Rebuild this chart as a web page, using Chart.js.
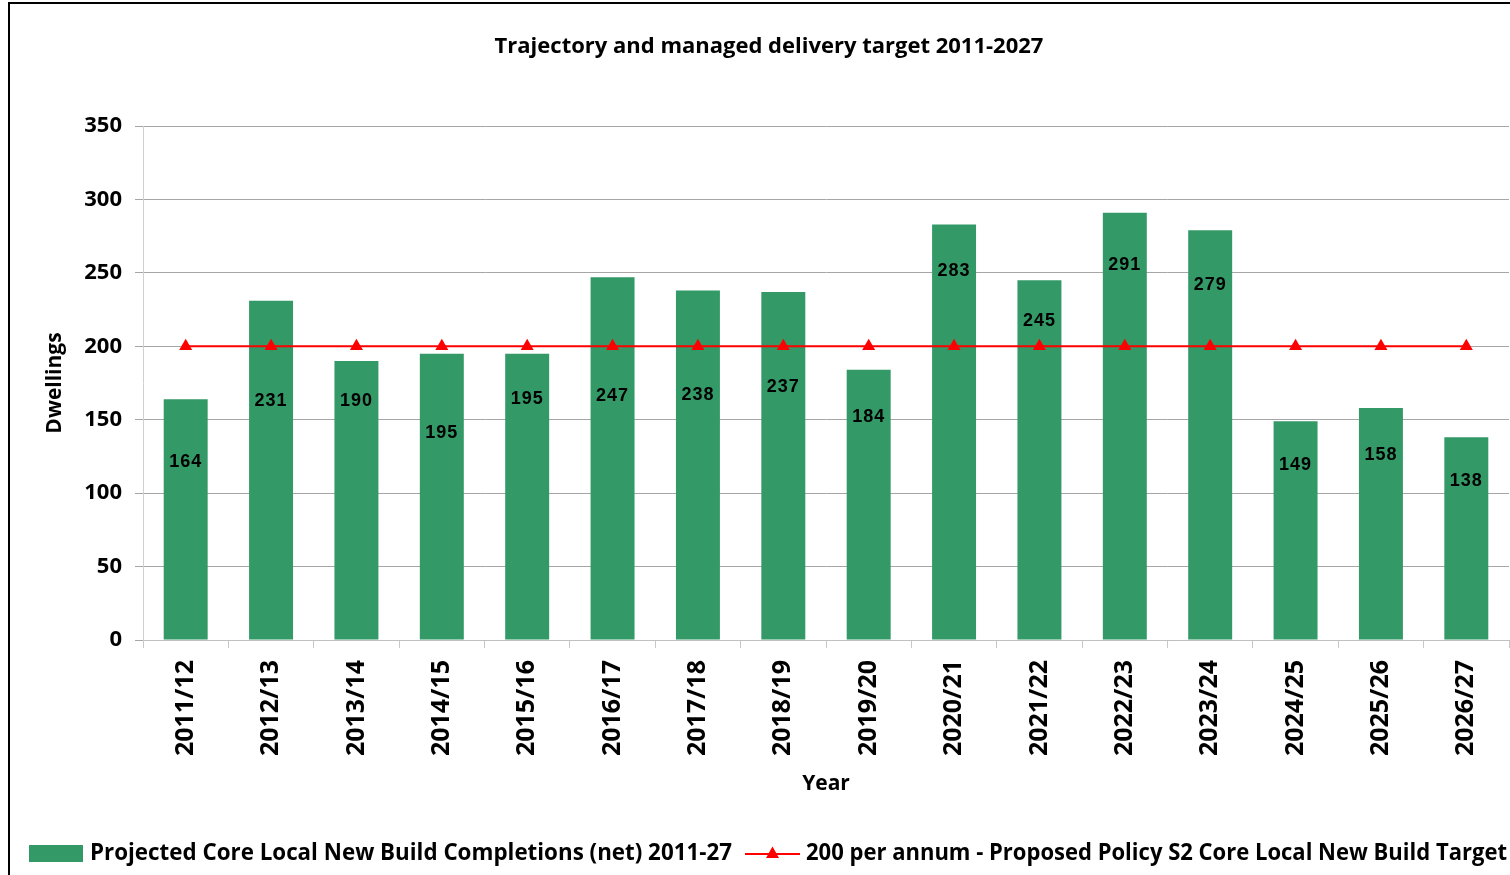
<!DOCTYPE html>
<html>
<head>
<meta charset="utf-8">
<script src="https://cdn.jsdelivr.net/npm/chart.js@4.4.1/dist/chart.umd.min.js"></script>
<style>
  html, body { margin: 0; padding: 0; background: #fff; }
  canvas { display: block; }
</style>
</head>
<body>
<canvas id="trajectoryChart" width="1510" height="875"></canvas>
<script>
// data
const years = [
  "2011/12", "2012/13", "2013/14", "2014/15", "2015/16", "2016/17", "2017/18", "2018/19",
  "2019/20", "2020/21", "2021/22", "2022/23", "2023/24", "2024/25", "2025/26", "2026/27",
];
const completions = [164, 231, 190, 195, 195, 247, 238, 237, 184, 283, 245, 291, 279, 149, 158, 138];
const target = [200, 200, 200, 200, 200, 200, 200, 200, 200, 200, 200, 200, 200, 200, 200, 200];
// where each value label sits, in dwellings on the y axis
const labelHeights = [121, 163, 163, 141, 164, 166, 167, 172, 152, 251, 217, 255, 242, 119, 126, 108];
const yTicks = [0, 50, 100, 150, 200, 250, 300, 350];

const barLabel = "Projected Core Local New Build Completions (net) 2011-27";
const lineLabel = "200 per annum - Proposed Policy S2 Core Local New Build Target";
const chartTitle = "Trajectory and managed delivery target 2011-2027";

const GREEN = "#339966";
const RED = "#ff0000";

Chart.defaults.font.family = "'Open Sans', 'DejaVu Sans', sans-serif";
Chart.defaults.color = "#000";

// labels inside the bars
const valueLabels = {
  id: "valueLabels",
  afterDatasetsDraw(chart) {
    const { ctx } = chart;
    const yScale = chart.scales.y;
    const meta = chart.getDatasetMeta(1);
    ctx.save();
    ctx.font = "bold 18px 'Liberation Sans', Arial, sans-serif";
    ctx.letterSpacing = "1px";
    ctx.fillStyle = "#000";
    ctx.textAlign = "center";
    ctx.textBaseline = "middle";
    meta.data.forEach((bar, i) => {
      ctx.fillText(String(completions[i]), bar.x, yScale.getPixelForValue(labelHeights[i]));
    });
    ctx.restore();
  },
};

// title, legend and frame
const decorations = {
  id: "decorations",
  afterDraw(chart) {
    const { ctx } = chart;
    ctx.save();

    ctx.fillStyle = "#000";
    ctx.font = "bold 22px 'Open Sans'";
    ctx.textAlign = "center";
    ctx.textBaseline = "middle";
    ctx.fillText(chartTitle, 769, 47);

    // legend
    const ly = 854;
    ctx.font = "bold 22.4px 'Open Sans'";
    ctx.textAlign = "left";
    ctx.fillStyle = GREEN;
    ctx.fillRect(29, 845, 54, 17);
    ctx.fillStyle = "#000";
    ctx.fillText(barLabel, 90, ly, 642);
    let x = 90 + Math.min(642, ctx.measureText(barLabel).width) + 13;
    ctx.strokeStyle = RED;
    ctx.lineWidth = 2;
    ctx.beginPath();
    ctx.moveTo(x, ly);
    ctx.lineTo(x + 55, ly);
    ctx.stroke();
    ctx.fillStyle = RED;
    ctx.beginPath();
    ctx.moveTo(x + 27.5, ly - 7.5);
    ctx.lineTo(x + 34, ly + 4);
    ctx.lineTo(x + 21, ly + 4);
    ctx.closePath();
    ctx.fill();
    ctx.fillStyle = "#000";
    ctx.fillText(lineLabel, x + 61, ly, 1507 - (x + 61));

    // frame
    ctx.strokeStyle = "#000";
    ctx.lineWidth = 2;
    ctx.beginPath();
    ctx.moveTo(9, 875);
    ctx.lineTo(9, 3);
    ctx.lineTo(1510, 3);
    ctx.stroke();
    ctx.restore();
  },
};

new Chart(document.getElementById("trajectoryChart").getContext("2d"), {
  data: {
    labels: years,
    datasets: [
      {
        type: "line",
        label: lineLabel,
        data: target,
        borderColor: RED,
        backgroundColor: RED,
        borderWidth: 2,
        pointStyle: "triangle",
        pointRadius: 7.5,
        pointHoverRadius: 7.5,
        pointBackgroundColor: RED,
        pointBorderWidth: 0,
        tension: 0,
        order: 0,
      },
      {
        type: "bar",
        label: barLabel,
        data: completions,
        backgroundColor: GREEN,
        categoryPercentage: 1,
        barPercentage: 0.515,
        order: 1,
      },
    ],
  },
  options: {
    responsive: false,
    animation: false,
    events: [],
    layout: { autoPadding: false, padding: { left: 0, top: 126, right: 1, bottom: 60 } },
    plugins: {
      legend: { display: false },
      title: { display: false },
      tooltip: { enabled: false },
    },
    scales: {
      x: {
        offset: true,
        afterFit: (s) => {
          s.height = 175;
          s.paddingLeft = 0;
          s.paddingRight = 0;
        },
        grid: { offset: true, drawOnChartArea: false, tickLength: 8, color: "#c8c8c8" },
        border: { color: "#c0c0c0" },
        ticks: {
          minRotation: 90,
          maxRotation: 90,
          padding: 12,
          autoSkip: false,
          font: { size: 25, weight: "bold" },
        },
        title: {
          display: true,
          text: "Year",
          font: { size: 21, weight: "bold" },
          padding: { top: 0, bottom: 18 },
        },
      },
      y: {
        min: 0,
        max: 350,
        afterFit: (s) => {
          s.width = 143;
          s.paddingTop = 0;
          s.paddingBottom = 0;
        },
        afterBuildTicks: (s) => { s.ticks = yTicks.map((v) => ({ value: v })); },
        grid: { color: "#a6a6a6", tickLength: 8 },
        border: { color: "#d0d0d0" },
        ticks: {
          padding: 13,
          font: { size: 22, weight: "bold" },
        },
        title: {
          display: true,
          text: "Dwellings",
          font: { size: 21, weight: "bold" },
          padding: { top: 42, bottom: 0 },
        },
      },
    },
  },
  plugins: [valueLabels, decorations],
});
</script>
</body>
</html>
